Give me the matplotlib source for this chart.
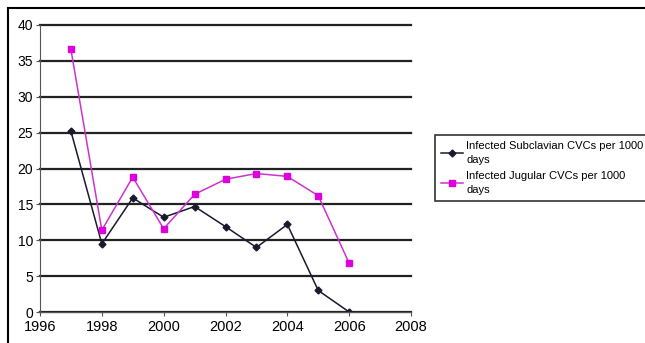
import matplotlib.pyplot as plt
from matplotlib.patches import Rectangle

plt.rcParams['font.family'] = ['Liberation Sans', 'DejaVu Sans']

years = [1997, 1998, 1999, 2000, 2001, 2002, 2003, 2004, 2005, 2006]
subclavian = [25.2, 9.5, 15.9, 13.2, 14.7, 11.9, 9.0, 12.2, 3.0, 0.0]
jugular = [36.6, 11.4, 18.8, 11.6, 16.4, 18.5, 19.3, 18.9, 16.2, 6.8]

fig = plt.figure(figsize=(6.45, 3.43), dpi=100)
# outer chart frame
fig.patches.append(Rectangle((8 / 645, -0.1), 1.1, 1 - 8 / 343 + 0.1,
                             transform=fig.transFigure, fill=False,
                             edgecolor='black', linewidth=1.5))

ax = fig.add_axes([40 / 645, 31 / 343, 371 / 645, 287 / 343])
ax.plot(years, subclavian, color='#1a1a2e', marker='D', markersize=3.5,
        linewidth=1.1, label='Infected Subclavian CVCs per 1000\ndays')
ax.plot(years, jugular, color='#cc33cc', marker='s', markersize=4.5,
        markerfacecolor='#dd00dd', markeredgecolor='#dd00dd',
        linewidth=1.1, label='Infected Jugular CVCs per 1000\ndays')

ax.set_xlim(1996, 2008)
ax.set_ylim(0, 40)
ax.set_xticks(range(1996, 2009, 2))
ax.set_yticks(range(0, 41, 5))
ax.yaxis.grid(True, color='#222222', linewidth=1.6)
for gl in ax.get_ygridlines():
    gl.set_clip_on(False)
ax.set_axisbelow(True)
for s in ['top', 'right']:
    ax.spines[s].set_visible(False)
ax.spines['left'].set_color('#555555')
ax.spines['bottom'].set_color('#555555')
ax.tick_params(axis='both', length=3, color='#555555')
ax.tick_params(axis='x', pad=3, labelsize=10.5)
ax.tick_params(axis='y', pad=2, labelsize=10)

leg = fig.legend(loc='upper left', bbox_to_anchor=(435 / 645, 1 - 135 / 343),
                 fontsize=8, frameon=True, fancybox=False, edgecolor='black',
                 handlelength=2.0, handletextpad=0.3, borderpad=0.5,
                 labelspacing=0.6, borderaxespad=0)
leg.get_frame().set_linewidth(1.2)
for t in leg.get_texts():
    t.set_linespacing(1.5)

fig.savefig('out.png', dpi=100)
